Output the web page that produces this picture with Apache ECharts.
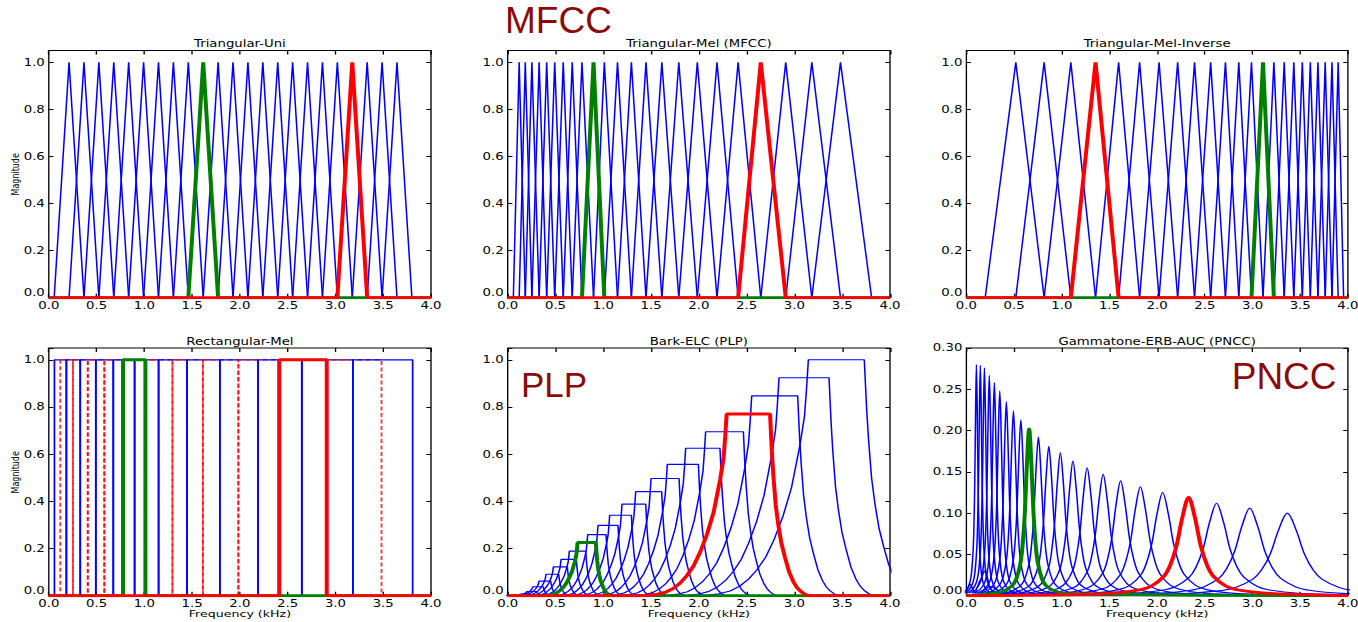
<!DOCTYPE html>
<html>
<head>
<meta charset="utf-8">
<title>Filter banks</title>
<script src="https://cdn.jsdelivr.net/npm/echarts@6/dist/echarts.min.js"></script>
<style>
  html, body { margin: 0; padding: 0; background: #fff; overflow: hidden; }
  #page { position: relative; width: 1358px; height: 622px; overflow: hidden; background: #fff; }
  #chart { width: 1022px; height: 622px; transform-origin: 0 0; }
</style>
</head>
<body>
<div id="page"><div id="chart"></div></div>
<script>
// ---------------------------------------------------------------------------
// Filter-bank data (frequencies in kHz)
// ---------------------------------------------------------------------------

// Band edges: filter j rises from edge j, peaks at edge j+1, ends at edge j+2
const uniEdges = [0.056, 0.212, 0.368, 0.524, 0.680, 0.836, 0.992, 1.148, 1.304, 1.460,
                  1.616, 1.772, 1.928, 2.084, 2.240, 2.396, 2.552, 2.708, 2.864, 3.020,
                  3.176, 3.332, 3.488, 3.644, 3.800];
const melEdges = [0.059, 0.120, 0.184, 0.253, 0.329, 0.408, 0.492, 0.581, 0.675, 0.777,
                  0.898, 1.011, 1.149, 1.294, 1.447, 1.613, 1.790, 1.984, 2.190, 2.411,
                  2.648, 2.909, 3.182, 3.482, 3.808];
const invEdges = [0.197, 0.518, 0.815, 1.095, 1.354, 1.596, 1.816, 2.020, 2.215, 2.392,
                  2.561, 2.716, 2.856, 2.989, 3.110, 3.224, 3.332, 3.433, 3.522, 3.606,
                  3.686, 3.762, 3.833, 3.898, 3.955];

// Highlighted filters [green, red]
const uniMarked  = [9, 19];
const melMarked  = [9, 19];
const invMarked  = [13, 3];
const rectMarked = [9, 19];
const barkMarked = [9, 19];
const gtMarked   = [9, 19];

// Bark-ELC filters: [flat-top start, flat-top end, height]
const barkTops = [
  [0.080, 0.160, 0.003], [0.140, 0.225, 0.008], [0.200, 0.300, 0.018], [0.262, 0.373, 0.038],
  [0.328, 0.450, 0.062], [0.401, 0.534, 0.091], [0.478, 0.624, 0.122], [0.558, 0.718, 0.154],
  [0.645, 0.816, 0.189], [0.731, 0.922, 0.225], [0.837, 1.029, 0.259], [0.945, 1.154, 0.298],
  [1.067, 1.294, 0.341], [1.196, 1.444, 0.388], [1.339, 1.611, 0.441], [1.500, 1.793, 0.497],
  [1.670, 1.995, 0.557], [1.862, 2.221, 0.625], [2.071, 2.466, 0.695], [2.291, 2.745, 0.770],
  [2.553, 3.034, 0.847], [2.839, 3.362, 0.924], [3.146, 3.731, 1.000]
];
// Skirt shape: [distance from the flat-top corner in top widths, fraction of height]
const barkLeftSkirt  = [[0, 1], [0.035, 0.87], [0.07, 0.76], [0.15, 0.64], [0.30, 0.46],
                        [0.45, 0.34], [0.61, 0.24], [0.76, 0.165], [0.92, 0.11], [1.07, 0.07],
                        [1.23, 0.04], [1.40, 0.02], [1.60, 0.008], [1.90, 0]];
const barkRightSkirt = [[0, 1], [0.04, 0.80], [0.075, 0.665], [0.13, 0.50], [0.19, 0.39],
                        [0.26, 0.29], [0.344, 0.21], [0.44, 0.13], [0.535, 0.078],
                        [0.62, 0.045], [0.70, 0.025], [0.79, 0.010], [0.88, 0]];

// Gammatone-ERB filters
const gtCenters = [0.105, 0.146, 0.189, 0.240, 0.293, 0.350, 0.419, 0.493, 0.571, 0.658,
                   0.755, 0.864, 0.985, 1.117, 1.266, 1.434, 1.617, 1.824, 2.058, 2.330,
                   2.623, 2.971, 3.365];
const gtPeaks = [0.280, 0.279, 0.276, 0.267, 0.258, 0.248, 0.235, 0.224, 0.213, 0.202,
                 0.192, 0.181, 0.173, 0.163, 0.155, 0.147, 0.139, 0.132, 0.125, 0.119,
                 0.112, 0.106, 0.100];
const gtHalfWidths = [0.017, 0.019, 0.021, 0.024, 0.026, 0.029, 0.033, 0.036, 0.040, 0.045,
                      0.049, 0.055, 0.061, 0.068, 0.075, 0.083, 0.093, 0.103, 0.115, 0.129,
                      0.143, 0.161, 0.181];
// Bell shape: [distance from centre in half widths, fraction of peak]
const gtProfile = [[0, 1], [0.5, 0.8], [1, 0.5], [1.5, 0.31], [2, 0.2], [3, 0.1],
                   [4, 0.059], [6, 0.027], [9, 0.012]];
// Low-frequency ripple of the lowest channels
const gtRipples = [
  [[0.00, 0.004], [0.02, 0.010], [0.04, 0.014], [0.06, 0.010], [0.08, 0.005], [0.10, 0.003]],
  [[0.10, 0.006], [0.13, 0.015], [0.16, 0.022], [0.18, 0.028], [0.20, 0.030], [0.22, 0.022],
   [0.24, 0.012], [0.27, 0.006], [0.30, 0.004]],
  [[0.15, 0.003], [0.20, 0.008], [0.25, 0.011], [0.30, 0.009], [0.35, 0.005], [0.40, 0.003],
   [0.45, 0.002]]
];

const panelTitles = ['Triangular-Uni', 'Triangular-Mel (MFCC)', 'Triangular-Mel-Inverse',
                     'Rectangular-Mel', 'Bark-ELC (PLP)', 'Gammatone-ERB-AUC (PNCC)'];
const FREQ_MIN = 0, FREQ_MAX = 4, FREQ_STEP = 0.5;

// ---------------------------------------------------------------------------
// Layout (page pixels; the drawing surface is stretched horizontally by S)
// ---------------------------------------------------------------------------
const S = 1358 / 1022;
const X = v => v / S;
const cols = [[48.8, 382.2], [507.7, 382.3], [966.4, 381.5]];   // [left, width]
const rows = [[50.6, 247.1], [348.0, 247.7]];                   // [top, height]

const BLUE = '#0000ff', GREEN = '#008000', RED = '#ff0000', DARKRED = '#8b0a0a';
const FONT = 'DejaVu Sans';
const THIN = 1.15, THICK = 3;

const chartEl = document.getElementById('chart');
chartEl.style.transform = 'scaleX(' + S + ')';
const chart = echarts.init(chartEl, null, { renderer: 'svg' });

const grids = [], xAxes = [], yAxes = [], series = [], graphics = [];

function addPanel(i, ymax, ystep, ydec, labelTop) {
  const c = cols[i % 3], r = rows[Math.floor(i / 3)];
  grids.push({ left: X(c[0]), width: X(c[1]), top: r[0], height: r[1],
               show: true, borderColor: '#000', borderWidth: 1, backgroundColor: '#fff',
               containLabel: false, outerBoundsMode: 'none' });
  const tick = len => ({ show: true, inside: true, length: len, lineStyle: { color: '#000', width: 1 } });
  const xBase = { gridIndex: i, type: 'value', min: FREQ_MIN, max: FREQ_MAX, interval: FREQ_STEP,
                  splitLine: { show: false }, axisLine: { show: false, onZero: false } };
  xAxes.push(Object.assign({}, xBase, {
    position: 'bottom', axisTick: tick(4),
    axisLabel: { show: true, margin: 2.5, fontSize: 10, fontFamily: FONT, color: '#000',
                 formatter: v => v.toFixed(1) } }));
  xAxes.push(Object.assign({}, xBase, { position: 'top', axisTick: tick(4), axisLabel: { show: false } }));
  const yBase = { gridIndex: i, type: 'value', min: 0, max: ymax, interval: ystep,
                  splitLine: { show: false }, axisLine: { show: false, onZero: false } };
  yAxes.push(Object.assign({}, yBase, {
    position: 'left', axisTick: tick(3.5),
    axisLabel: { show: true, margin: 3, fontSize: 10, fontFamily: FONT, color: '#000',
                 verticalAlignMinLabel: 'bottom',
                 formatter: v => (v > labelTop + 1e-9 ? '' : v.toFixed(ydec)) } }));
  yAxes.push(Object.assign({}, yBase, { position: 'right', axisTick: tick(3.5), axisLabel: { show: false } }));

  graphics.push({ type: 'text', x: X(c[0] + c[1] / 2), y: i < 3 ? 43.9 : 341.9, silent: true,
                  style: { text: panelTitles[i], fontSize: 10, fontFamily: FONT, fill: '#000',
                           align: 'center', verticalAlign: 'middle' } });
}

function addLine(panel, data, color, width, opts) {
  opts = opts || {};
  series.push({
    type: 'line', xAxisIndex: panel * 2, yAxisIndex: panel * 2, data: data,
    symbol: 'none', showSymbol: false, silent: true, animation: false, clip: true,
    smooth: opts.smooth || false,
    emphasis: { disabled: true },
    lineStyle: { color: color, width: width, type: opts.dash || 'solid',
                 opacity: opts.opacity == null ? 1 : opts.opacity }
  });
}

const triangle = (e, j) => [[FREQ_MIN, 0], [e[j], 0], [e[j + 1], 1], [e[j + 2], 0], [FREQ_MAX, 0]];
const rectangle = (e, j) => [[FREQ_MIN, 0], [e[j], 0], [e[j], 1], [e[j + 2], 1], [e[j + 2], 0], [FREQ_MAX, 0]];

function barkCurve(t, withBase) {
  const l = t[0], r = t[1], h = t[2], w = r - l, pts = [];
  for (let k = barkLeftSkirt.length - 1; k >= 0; k--) pts.push([l - barkLeftSkirt[k][0] * w, barkLeftSkirt[k][1] * h]);
  barkRightSkirt.forEach(p => pts.push([r + p[0] * w, p[1] * h]));
  if (withBase) { pts.unshift([FREQ_MIN, 0]); if (pts[pts.length - 1][0] < FREQ_MAX) pts.push([FREQ_MAX, 0]); }
  return pts;
}

function bellCurve(fc, pk, hw, withBase) {
  const pts = [];
  for (let k = gtProfile.length - 1; k > 0; k--) pts.push([fc - gtProfile[k][0] * hw, gtProfile[k][1] * pk]);
  gtProfile.forEach(p => pts.push([fc + p[0] * hw, p[1] * pk]));
  if (withBase) { pts.unshift([FREQ_MIN, 0]); pts.push([FREQ_MAX, 0]); }
  return pts;
}

// Triangular panels
[[uniEdges, uniMarked], [melEdges, melMarked], [invEdges, invMarked]].forEach((pe, i) => {
  addPanel(i, 1.05, 0.2, 1, 1.0);
  const e = pe[0], m = pe[1];
  for (let j = 0; j < e.length - 2; j++) if (m.indexOf(j) < 0) addLine(i, triangle(e, j), BLUE, THIN);
  addLine(i, triangle(e, m[0]), GREEN, THICK);
  addLine(i, triangle(e, m[1]), RED, THICK);
});

// Rectangular-Mel: even bands solid blue, odd bands dashed red
addPanel(3, 1.05, 0.2, 1, 1.0);
for (let j = 0; j < melEdges.length - 2; j++) {
  if (rectMarked.indexOf(j) >= 0) continue;
  if (j % 2 === 0) addLine(3, rectangle(melEdges, j), BLUE, 1.3);
  else addLine(3, rectangle(melEdges, j), RED, 1.4, { dash: [4, 2.5], opacity: 0.8 });
}
addLine(3, rectangle(melEdges, rectMarked[0]), GREEN, THICK);
addLine(3, rectangle(melEdges, rectMarked[1]), RED, THICK);

// Bark-ELC (PLP)
addPanel(4, 1.05, 0.2, 1, 1.0);
barkTops.forEach((t, j) => { if (barkMarked.indexOf(j) < 0) addLine(4, barkCurve(t, false), BLUE, THIN); });
addLine(4, barkCurve(barkTops[barkMarked[0]], true), GREEN, THICK);
addLine(4, barkCurve(barkTops[barkMarked[1]], true), RED, THICK);

// Gammatone-ERB-AUC (PNCC)
addPanel(5, 0.30, 0.05, 2, 0.30);
gtRipples.forEach(rp => addLine(5, rp, BLUE, THIN, { smooth: 0.3 }));
gtCenters.forEach((fc, j) => {
  if (gtMarked.indexOf(j) < 0) addLine(5, bellCurve(fc, gtPeaks[j], gtHalfWidths[j], false), BLUE, THIN, { smooth: 0.35 });
});
[0, 1].forEach(k => {
  const j = gtMarked[k];
  addLine(5, bellCurve(gtCenters[j], gtPeaks[j], gtHalfWidths[j], true), k ? RED : GREEN, THICK, { smooth: 0.35 });
});

// Axis captions
graphics.push({ type: 'text', x: X(15), y: 174.3, rotation: Math.PI / 2, silent: true,
                style: { text: 'Magnitude', fontSize: 8, fontFamily: FONT, fill: '#000', align: 'center', verticalAlign: 'middle' } });
graphics.push({ type: 'text', x: X(15), y: 472.3, rotation: Math.PI / 2, silent: true,
                style: { text: 'Magnitude', fontSize: 8, fontFamily: FONT, fill: '#000', align: 'center', verticalAlign: 'middle' } });
cols.forEach(c => graphics.push({ type: 'text', x: X(c[0] + c[1] / 2), y: 614, silent: true,
  style: { text: 'Frequency (kHz)', fontSize: 9.5, fontFamily: FONT, fill: '#000', align: 'center', verticalAlign: 'middle' } }));

// Feature-set labels (drawn at natural width, undoing the stretch)
[['MFCC', 505, 21, 37], ['PLP', 521, 384.2, 35], ['PNCC', 1231.7, 376.7, 37]].forEach(b => {
  graphics.push({ type: 'text', x: X(b[1]), y: b[2], scaleX: 1 / S, silent: true, z: 10,
                  style: { text: b[0], fontSize: b[3], fontFamily: 'Liberation Sans', fill: DARKRED,
                           align: 'left', verticalAlign: 'middle' } });
});

chart.setOption({
  backgroundColor: '#fff',
  animation: false,
  grid: grids, xAxis: xAxes, yAxis: yAxes, series: series,
  graphic: { elements: graphics }
});
</script>
</body>
</html>
